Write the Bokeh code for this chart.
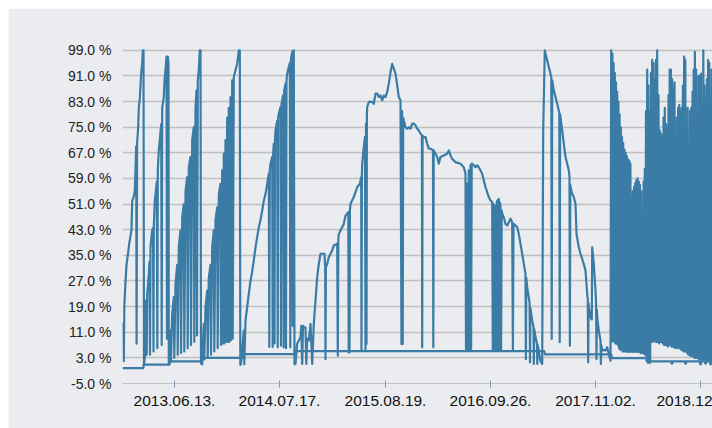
from bokeh.plotting import figure
from bokeh.models import Range1d, FixedTicker, PrintfTickFormatter
from bokeh.embed import file_html
from bokeh.resources import INLINE

# x = measurement sample number, y = level in %
cycle1 = [(0,14),(0.7,13),(1.3,2),(1.8,19),(2.7,25),(4,32),(5.3,35),(6.7,38.6),(8,41),(9,43),(9.7,52),(11,53),
          (12.3,55),(13,61.5),(13.7,69),(14.1,7.4),(14.6,70),(15.7,75),(16.3,81),(17.3,84),(18,88),(18.7,92),
          (19.7,95),(20.3,99),(21,99),(21.5,1)]
cycle2 = [(22.3,3),(23,15),(23.7,21),(24.2,4),(24.7,23),(25.3,25),(26.3,29),(27,33),(27.5,4),(28,37.5),(28.7,40),
          (29.7,42.8),(30.5,43.5),(31,5),(31.3,44),(32.3,52),(33.7,56),(34.3,58),(34.8,6),(35.3,61.5),(36.3,67.8),
          (37.3,71),(38.7,76),(39.2,7),(39.7,81),(41.3,84.4),(42,89.6),(43,92.8),(44,97),(44.5,9),(45,97),
          (45.3,97),(46,95),(46.3,1.5)]
cycle3 = [(47,1.1),(47.5,8),(48,11.5),(48.5,2),(49.7,16.7),(51.3,22),(51.8,3),(53,26),(54.7,32),(55.2,4),
          (56.3,37.5),(58,42.8),(58.5,4.5),(59.7,47),(61.3,51),(61.8,5),(63,55),(64.7,59.4),(65.2,6),(66.3,62.5),
          (68,65.7),(68.5,7),(69.7,71),(71.3,75),(71.8,8),(73,81),(74,86.5),(74.5,10),(75.3,89.6),(76.3,92.8),
          (77.3,99),(78,99),(78.5,1.2)]
cycle4 = [(79.7,1),(80.5,8),(81.3,13.6),(81.8,2.5),(83,18.8),(84.7,24),(85.2,3),(86.3,28),(88,32),(88.5,4),
          (89.7,37.5),(91.3,42.8),(91.8,5),(93,46),(94.7,50),(95.2,6),(96.3,54),(98,57.3),(98.5,7),(99.7,61.5),
          (100.2,7.5),(101.3,66.7),(101.8,7.5),(103,71),(103.5,8),(104.7,78),(105.2,8),(106.3,81),(106.8,8),
          (108,84.4),(108.5,8.5),(109.7,89.6),(110.2,9),(111.3,90.7),(113,92.8),(114.7,94.8),(116.3,99),
          (117.3,99),(117.8,0.8)]
cycle5 = [(118.5,1.1),(119.7,5.3),(121.3,11.5),(121.8,1),(123,14.7),(124.7,18.8),(126.3,23),(128,27),(129.7,30),
          (131.3,33.4),(133,37.5),(134.7,40.7),(136.3,43.8),(138,46),(139.7,49),(141.3,52),(143,54.2),(144.7,57.3),
          (146.3,60.5),(146.8,6.4),(147.3,61.5),(148,63.6),(149.7,65.7),(150.2,6.4),(150.7,67),(151.3,69.8),
          (152,7.5),(152.5,71),(153,74),(154.7,77),(155.2,6.3),(155.7,78),(156.3,79.2),(158,81.3),(158.5,6.8),
          (159,82),(159.7,83.4),(160.7,85),(161.2,6.3),(161.7,86.5),(163,88.6),(163.5,6),(164,89.5),(164.7,91.7),
          (166.3,93.8),(167.3,95),(167.8,6.3),(168.3,95.9),(169.7,98.5),(170.2,13),(170.7,98.8),(171.3,99),(172,1)]
cycle6 = [(173,1.1),(174.7,7.4),(176.3,8.4),(178,9.4),(178.8,13),(179.7,1.1),(180.5,13),(181.3,12.5),(183,12.5),
          (183.8,1.1),(184.7,9),(186.3,8.4),(188,13.6),(189.7,1.1),(191.3,13.6),(192,16.7),(193,20.9),(194.7,28.2),
          (196.3,32.3),(198,35.5),(200,35.5),(202,35.5),(202.7,31.3),(203,2.6),(203.4,31.3),(204.7,32.3),
          (206.3,34.4),(209.7,36.5),(211.3,38.1),(214.7,38.6),(215.3,3.7),(215.8,40),(216.3,41.7),(218,42.75),
          (221.3,44.8),(223,47.4),(224.7,48),(225.8,48.5),(226.2,4.7),(226.6,48.5),(227,4.7),(227.4,49),(228,51.1),
          (231.3,53.2),(234.7,56.3),(237.3,57.3),(238.7,59.4),(239,5.25),(239.4,60),(239.7,63.6),(241.3,68.8),
          (242.5,72),(243,5.25),(243.5,76.1),(244,7.3),(244.4,79),(244.7,81.3),(246.3,82.9),(249.7,82.9),
          (251.3,82.3),(253,85.5),(254.7,85.5),(256.3,84.4),(258,84.9),(259.7,83.4),(261.3,84.9),(263,84.4),
          (264.7,86),(266.3,88.6),(268,92.2),(269.7,94.8),(271.3,93.3),(273,91.7),(274.7,88.1),(276.3,84.4),
          (278,83.4),(279,7.3),(279.6,80),(280.2,7.3),(280.7,78),(281.3,77.1),(283,75),(284.7,74.5),(286.3,75),
          (288,74.5),(289.7,76.1),(291.3,76.1),(293,75.6),(294.7,74.5),(296.3,74),(298,73),(299.4,72.5),
          (299.7,6.3),(300.1,72.3),(301.3,71.9),(303,71.9),(304.7,69.8),(306.3,68.3),(308,68.3),(310.5,67.8),
          (310.8,6.3),(311.2,67.8),(313,66.7),(314.7,65.7),(316.3,63.6),(318,65.7),(321.3,66.2),(324.7,66.7),
          (326.3,67.75),(328,66.2),(329.7,65.1),(333,64.1),(338,63.6),(341.3,62.5),(343,60.5),(343.5,5.8),
          (344,57.3),(344.5,5.8),(345,57.5),(345.6,5.8),(346.3,61.5),(347,5.8),(348,63.1),(348.6,5.8),(349.2,63.6),
          (349.7,63.6),(351.3,63.1),(353,62.5),(354.7,63.1),(356.3,62.5),(358,61.5),(359.7,60.5),(361.3,58.4),
          (363,56.3),(364.7,54.7),(366.3,53.2),(368,52.1),(369.7,51.6),(370.3,5.25),(370.9,51),(371.5,5.25),
          (372,50.5),(372.6,5.25),(373,50),(373.6,5.25),(374.2,51.5),(374.7,52.1),(375.3,5.25),(375.9,52.5),
          (376.3,52.6),(377,5.25),(377.5,51.5),(378,50),(378.6,5.25),(379.2,49),(379.7,48),(381.3,46.9),
          (383,44.8),(384.7,44.3),(386.3,45.35),(388,46.4),(389.7,45.35),(390.4,5.25),(391,44.8),(391.3,44.8),
          (394.7,43.8),(396.3,41.7),(398,38.6),(399.7,35.5),(401.3,32.3),(403,29.2),(403.4,2.6),(403.8,28),
          (404.7,25),(406.3,21.9),(407.1,20),(407.5,1.6),(407.9,18.5),(409.7,14.6),(411,12.8),(411.3,1.1),
          (411.7,12),(413,9.4),(414.5,7.5),(414.8,1.1),(415.2,7),(416.3,5.2),(418,2),(419.7,1.1),(420.7,74)]
cycle7 = [(422.3,99),(423,98),(424.7,95.9),(426.3,93.8),(428,91.7),(428.8,90.5),(429.2,8.9),(429.7,89.6),
          (431.3,86.5),(433,84.4),(434.7,82.3),(436.3,80.2),(436.8,79.5),(437.2,7.9),(437.6,79),(438,78.2),
          (439.7,74),(441.3,69.8),(443,65.7),(444.7,63.6),(446.3,61.5),(447,59.5),(447.4,6.8),(447.8,57),
          (448,56.3),(449.7,54.2),(451.3,53.2),(453,51.1),(454,41.7),(456.3,37.5),(458,35.5),(461.3,32.3),
          (463,30.2),(464.7,23),(465.3,21),(465.7,1.6),(466.1,20),(466.3,18.8),(468,15.7),(469.3,15),(469.7,37.5),
          (471.3,32.3),(473,24),(473.6,20),(474,2.6),(474.4,18),(474.7,15.7),(476.3,11.5),(478,8.4),(478.4,1.1),
          (478.8,7),(479.7,5.3),(481.5,5.5),(483,5.3),(484.7,6.3),(486.3,4.2),(488,2.1)]
cycle8 = [(488.7,99),(489.3,8),(489.9,98),(490.5,8.5),(491.1,95),(491.7,8),(492.3,92),(492.9,7.5),(493.5,89),
          (494.1,7.5),(494.7,86),(495.3,7),(495.9,83),(496.5,6),(497.1,79),(497.7,5.5),(498.3,75),(498.9,5.5),
          (499.5,72),(500.1,5),(500.7,70),(501.3,5),(501.9,68),(502.5,5),(503.1,67),(503.7,5),(504.3,66),
          (504.9,4.8),(505.5,65),(506.1,5),(506.7,64.5),(507.3,4.8),(507.9,63.6),(508.5,5),(509.1,53),(509.7,4.8),
          (510.3,55),(510.9,5),(511.5,56.3),(512.1,4.8),(512.7,57.5),(513.3,5),(513.9,58.4),(514.5,4.8),(515.1,59),
          (515.7,5),(516.3,58),(516.9,4.8),(517.5,57),(518.1,4.5),(518.7,55),(519.3,4.5),(519.9,44)]
cycle9 = [(520.5,4.5),(521.1,58),(521.7,4.2),(522.3,62),(522.9,4),(523.5,80),(524.1,2),(524.7,93),(525.3,1.5),
          (525.9,88),(526.5,1.5),(527.1,80),(527.7,1.5),(528.5,92),(529.1,8),(529.7,96),(530.3,8),(531,95),
          (531.6,8.5),(532.3,90),(532.9,8),(533.5,96),(534.1,8),(534.7,99),(535.3,8),(536,85),(536.6,7.5),
          (537.3,74),(537.9,8),(538.5,73),(539.1,8),(539.8,72),(540.4,7.5),(541,78),(541.6,7),(542.3,81),
          (542.9,7),(543.5,76),(544.1,7),(544.8,75),(545.4,6.5),(546,85),(546.6,7),(547.2,93),(547.8,7),(548.4,93),
          (549,6.5),(549.6,90),(550.2,6.5),(550.8,87),(551.4,6.5),(552,89),(552.6,6),(553.2,71),(553.8,6.5),
          (554.4,78),(555,6),(555.6,81),(556.2,6),(556.8,82),(557.4,6),(558,80),(558.6,5.5),(559.2,81),(559.8,5.5),
          (560.4,88),(561,5),(561.6,97),(562.2,5),(562.8,96),(563.4,5),(564,74),(564.6,4.5),(565.2,81),(565.8,4),
          (566.4,53),(567,4),(567.6,80),(568.2,3.5),(568.8,81),(569.4,3.5),(570,86),(570.6,3.5),(571.2,93),
          (571.8,3),(572.4,98.5),(573,3),(573.6,93),(574.2,3),(574.8,74),(575.4,3),(576,91),(576.6,2.5),
          (577.2,90.7),(577.8,2.5),(578.4,91.7),(579,2.5),(579.6,48),(580.2,2.5),(580.8,99),(581.4,2.5),(582,88),
          (582.6,2.5),(583.2,84.4),(583.8,2),(584.4,90),(585,2),(585.6,96),(586.2,2),(586.8,95),(587.4,2),
          (588,83.4),(588.6,2),(589.2,93),(589.8,2)]

# lower reference level: sample where each level starts, and level in %
base_start = [0, 21, 47, 79, 121, 172, 422, 489, 527, 549, 549.8, 562.7, 563.5, 577.7, 578.5, 582.7, 583.5, 587.7, 588.5, 590]
base_level = [-0.2, 0.9, 1.9, 3.0, 4.2, 5.1, 4.1, 2.9, 1.9, 1.2, 1.9, 1.2, 1.9, 1.0, 1.9, 1.2, 1.9, 1.0, 1.9, 1.9]

tick_samples = [52, 157, 263, 368, 473, 578]
# the last date label is cut at the right edge in the original; only "2018.12" is visible
tick_labels = ["2013.06.13.", "2014.07.17.", "2015.08.19.", "2016.09.26.", "2017.11.02.", "2018.12"]
y_ticks = [-5, 3, 11, 19, 27, 35, 43, 51, 59, 67, 75, 83, 91, 99]

points = cycle1 + cycle2 + cycle3 + cycle4 + cycle5 + cycle6 + cycle7 + cycle8 + cycle9
main_x = [pt[0] for pt in points]
main_y = [pt[1] for pt in points]

BG = "#ebecef"
BLUE = "#3a7ca6"
FONT = "Liberation Sans"

p = figure(width=704, height=420, output_backend="svg", toolbar_location=None,
           x_range=Range1d(0, 590), y_range=Range1d(-5, 100.5),
           min_border_left=114, min_border_right=0, min_border_top=37, min_border_bottom=45,
           margin=(8, 0, 0, 8))
p.background_fill_color = BG
p.border_fill_color = BG
p.outline_line_color = None

p.step(base_start, base_level, mode="after", line_color=BLUE, line_width=2.2)
p.line(main_x, main_y, line_color=BLUE, line_width=2.2, line_join="round")

yt = FixedTicker(ticks=y_ticks)
p.yaxis.ticker = yt
p.ygrid.ticker = yt
p.yaxis.formatter = PrintfTickFormatter(format="%.1f %%")
p.yaxis.axis_line_color = None
p.yaxis.major_tick_line_color = None
p.yaxis.minor_tick_line_color = None
p.yaxis.major_label_text_font = FONT
p.yaxis.major_label_text_font_size = "14px"
p.yaxis.major_label_text_color = "#222222"
p.yaxis.major_label_standoff = 5

p.xaxis.ticker = FixedTicker(ticks=tick_samples)
p.xaxis.major_label_overrides = {t: l for t, l in zip(tick_samples, tick_labels)}
p.xaxis.axis_line_color = "#c4c4c4"
p.xaxis.axis_line_width = 1
p.xaxis.major_tick_line_color = "#7d9bbb"
p.xaxis.major_tick_in = 3
p.xaxis.major_tick_out = 4
p.xaxis.minor_tick_line_color = None
p.xaxis.major_label_text_font = FONT
p.xaxis.major_label_text_font_size = "15.5px"
p.xaxis.major_label_text_color = "#111111"
p.xaxis.major_label_standoff = 8

p.xgrid.visible = False
p.ygrid.grid_line_color = "#c0c0c0"
p.ygrid.grid_line_width = 1.5

open("out.html", "w").write(file_html(p, INLINE))
